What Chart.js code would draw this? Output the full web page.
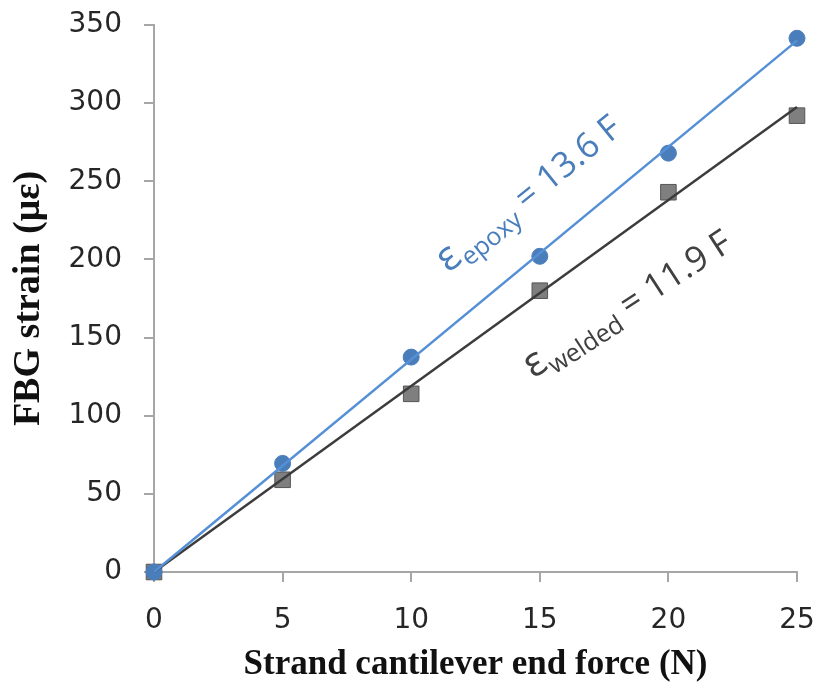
<!DOCTYPE html>
<html>
<head>
<meta charset="utf-8">
<script src="https://cdn.jsdelivr.net/npm/chart.js@4.4.1/dist/chart.umd.min.js"></script>
<style>
  html, body { margin: 0; padding: 0; background: #fff; }
  #wrap { width: 817px; height: 686px; }
</style>
</head>
<body>
<div id="wrap"><canvas id="c" width="817" height="686"></canvas></div>
<script>
// ---- data ----
const forces = [0, 5, 10, 15, 20, 25];
const epoxyStrain = [0, 69.5, 137.5, 202, 268, 341.5];
const weldedStrain = [0, 59, 114, 180, 243, 292];
const fitSlopes = { epoxy: 13.6, welded: 11.9 };
const xTicks = [0, 5, 10, 15, 20, 25];
const yTicks = [0, 50, 100, 150, 200, 250, 300, 350];
const xTitle = 'Strand cantilever end force (N)';
const yTitle = 'FBG strain (\u03bc\u03b5)';
const eqLabels = [
  { sym: '\u03b5', sub: 'epoxy', rest: ' = 13.6 F', x: 11.45, y: 191, angle: -39, color: '#4a7ebb' },
  { sym: '\u03b5', sub: 'welded', rest: ' = 11.9 F', x: 14.75, y: 123.5, angle: -33, color: '#404040' }
];

const toPts = (ys) => forces.map((f, i) => ({ x: f, y: ys[i] }));
const fitPts = (k) => [{ x: forces[0], y: k * forces[0] }, { x: forces[forces.length - 1], y: k * forces[forces.length - 1] }];

const eqPlugin = {
  id: 'eqPlugin',
  afterDatasetsDraw(chart) {
    const { ctx, scales } = chart;
    eqLabels.forEach(l => {
      const px = scales.x.getPixelForValue(l.x);
      const py = scales.y.getPixelForValue(l.y);
      ctx.save();
      ctx.translate(px, py);
      ctx.rotate(l.angle * Math.PI / 180);
      ctx.fillStyle = l.color;
      ctx.textBaseline = 'alphabetic';
      ctx.textAlign = 'left';
      ctx.font = '41px "Open Sans"';
      ctx.fillText(l.sym, 0, 0);
      let w = ctx.measureText(l.sym).width + 1;
      ctx.font = '25px "Open Sans"';
      ctx.fillText(l.sub, w, 8);
      w += ctx.measureText(l.sub).width;
      ctx.font = '35px "Open Sans"';
      ctx.fillText(l.rest, w, 0);
      ctx.restore();
    });
  }
};

const zeroPad = (s) => { s.paddingLeft = 0; s.paddingRight = 0; s.paddingTop = 0; s.paddingBottom = 0; };

new Chart(document.getElementById('c'), {
  type: 'scatter',
  data: {
    datasets: [
      { label: 'epoxy fit', data: fitPts(fitSlopes.epoxy), showLine: true, borderColor: '#5590d6', borderWidth: 2.5, pointRadius: 0, order: 0, clip: false },
      { label: 'welded fit', data: fitPts(fitSlopes.welded), showLine: true, borderColor: '#3c3c3c', borderWidth: 2.5, pointRadius: 0, order: 0, clip: false },
      { label: 'epoxy', data: toPts(epoxyStrain), pointStyle: 'circle', pointRadius: 8, backgroundColor: '#4a7ebb', borderColor: '#4a7ebb', borderWidth: 1, order: 1, clip: false },
      { label: 'welded', data: toPts(weldedStrain), pointStyle: 'rect', pointRadius: 11, backgroundColor: '#7f7f7f', borderColor: '#555555', borderWidth: 1, order: 1, clip: false }
    ]
  },
  options: {
    responsive: false,
    animation: false,
    devicePixelRatio: 1,
    layout: { padding: { top: 25, right: 20, left: 0, bottom: 0 } },
    plugins: { legend: { display: false }, tooltip: { enabled: false } },
    scales: {
      x: {
        type: 'linear', min: 0, max: 25,
        afterFit: (s) => { s.height = 114; zeroPad(s); },
        afterBuildTicks: (s) => { s.ticks = xTicks.map(v => ({ value: v })); },
        grid: { drawOnChartArea: false, drawTicks: true, tickLength: 10, color: '#a6a6a6', lineWidth: 2 },
        border: { display: true, color: '#a6a6a6', width: 2 },
        ticks: { color: '#262626', font: { family: '"DejaVu Sans"', size: 28 }, padding: 22, maxRotation: 0 },
        title: { display: true, text: xTitle, color: '#111', font: { family: '"Liberation Serif"', size: 35, weight: 'bold' }, padding: { top: 0, bottom: 0 } }
      },
      y: {
        type: 'linear', min: 0, max: 350,
        afterFit: (s) => { s.width = 154; zeroPad(s); },
        afterBuildTicks: (s) => { s.ticks = yTicks.map(v => ({ value: v })); },
        grid: { drawOnChartArea: false, drawTicks: true, tickLength: 10, color: '#a6a6a6', lineWidth: 2 },
        border: { display: true, color: '#a6a6a6', width: 2 },
        ticks: { color: '#262626', font: { family: '"DejaVu Sans"', size: 28 }, padding: 22 },
        title: { display: true, text: yTitle, color: '#111', font: { family: '"Liberation Serif"', size: 38, weight: 'bold' }, padding: { top: 6, bottom: 0 } }
      }
    }
  },
  plugins: [eqPlugin]
});
</script>
</body>
</html>
